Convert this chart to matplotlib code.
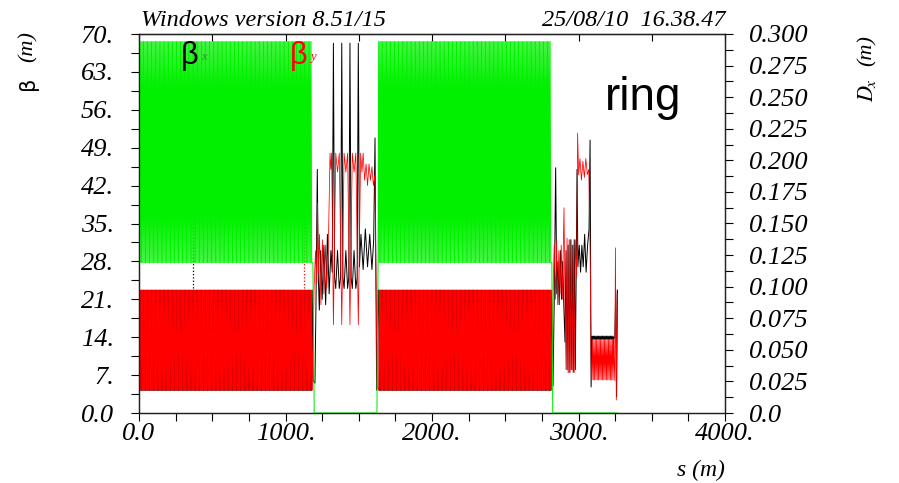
import numpy as np
import matplotlib
matplotlib.use('Agg')
import matplotlib.pyplot as plt
from matplotlib.ticker import MultipleLocator, FixedLocator, FixedFormatter

# --- arc FODO cell ---
CELL_LEN = 9.0
cell_s = [0.0, 2.25, 4.5, 6.75]
cell_betx = [22.7, 12.0, 4.2, 12.0]
cell_bety = [4.2, 12.0, 22.7, 12.0]
cell_s_d = [0.0, 4.5]
cell_dx = [0.294, 0.119]
arc_start = [4.0, 1636.0]
arc_cells = [131, 131]

# --- ring start ---
start_s = [0.0, 2.0]
start_betx = [10.0, 16.0]
start_bety = [6.0, 2.0]
start_s_d = [0.0, 2.0]
start_dx = [0.0, 0.119]

# --- first insertion (between the arcs) ---
ins1_s_x = [1183, 1190, 1201, 1208, 1217, 1224, 1231, 1240, 1250, 1262, 1274, 1286, 1298,
            1310, 1319, 1327, 1335, 1343, 1355, 1367, 1376, 1384, 1392, 1400, 1412, 1424,
            1432, 1440, 1448, 1456, 1468, 1480, 1489, 1497, 1505, 1515, 1530, 1545, 1560,
            1575, 1590, 1602, 1611, 1622, 1632]
ins1_betx = [22.7, 6.0, 5.5, 20.0, 45.0, 25.0, 19.0, 30.0, 21.0, 31.0, 20.0, 33.0, 22.0,
             30.0, 26.0, 68.3, 25.0, 23.0, 30.0, 23.0, 25.0, 68.3, 25.0, 23.0, 30.0, 23.0,
             25.0, 68.3, 25.0, 23.0, 30.0, 23.0, 25.0, 68.3, 27.0, 33.0, 26.5, 34.0, 27.0,
             33.0, 26.5, 32.0, 50.8, 4.2, 22.7]
ins1_s_y = [1183, 1195, 1205, 1212, 1218, 1224, 1232, 1242, 1252, 1262, 1272, 1282, 1292,
            1304, 1310, 1315, 1327, 1343, 1355, 1367, 1384, 1400, 1412, 1424, 1440, 1456,
            1468, 1480, 1497, 1513, 1522, 1530, 1540, 1550, 1560, 1570, 1580, 1590, 1600,
            1610, 1620, 1626, 1636]
ins1_bety = [4.2, 23.0, 30.0, 24.0, 38.8, 26.0, 33.0, 20.0, 32.0, 22.0, 31.0, 23.0, 30.0,
             48.0, 45.0, 48.0, 16.3, 48.0, 44.5, 48.0, 16.3, 48.0, 44.5, 48.0, 16.3, 48.0,
             44.5, 48.0, 16.3, 48.0, 44.5, 48.0, 43.0, 46.0, 42.0, 46.0, 43.0, 45.5, 42.0,
             44.0, 20.0, 5.0, 4.2]
ins1_s_d = [1187, 1196, 1624, 1632]
ins1_dx = [0.119, 0.0, 0.0, 0.119]

# --- last section after the second arc ---
sec3_s_x = [2815, 2826, 2834, 2844, 2852, 2860, 2868, 2876, 2884, 2892, 2900, 2908, 2915,
            2922, 2929, 2936, 2943, 2950, 2957, 2964, 2971, 2978, 2985, 2990, 2996, 3005,
            3014, 3023, 3032, 3042, 3052, 3062, 3072, 3079, 3086, 3092]
sec3_betx = [22.7, 5.0, 20.0, 45.3, 22.0, 28.0, 20.0, 30.0, 21.0, 28.0, 19.6, 13.1, 30.0,
             8.0, 31.0, 7.5, 32.0, 8.0, 31.0, 7.5, 32.0, 8.0, 28.0, 45.0, 27.0, 31.0,
             26.0, 31.0, 27.0, 33.0, 26.0, 31.0, 34.0, 50.4, 4.8, 14.0]
sec3_s_y = [2815, 2826, 2834, 2842, 2850, 2858, 2866, 2874, 2882, 2890, 2901, 2908, 2915,
            2922, 2929, 2936, 2943, 2950, 2957, 2964, 2971, 2978, 2987, 2994, 3001, 3010,
            3020, 3030, 3040, 3050, 3060, 3070, 3079, 3088, 3092]
sec3_bety = [4.2, 22.0, 31.0, 21.0, 32.0, 20.0, 30.0, 22.0, 31.0, 21.0, 37.9, 20.0, 8.0,
             32.3, 7.4, 32.0, 7.5, 32.0, 8.0, 31.0, 7.5, 32.0, 25.0, 51.7, 44.0, 47.0,
             43.0, 46.5, 43.5, 47.0, 44.0, 45.0, 30.0, 6.0, 6.1]
sec3_s_d = [2818, 2824, 3265]
sec3_dx = [0.119, 0.0, 0.0]

# flat dense cells near the end
flat_start = 3092.0
flat_cells = 17
flat_betx = [14.2, 13.9, 13.6, 13.9]
flat_bety = [6.1, 9.8, 13.6, 9.8]

end_s_x = [3248, 3254, 3260, 3266]
end_betx = [14.0, 22.7, 3.0, 22.7]
end_s_y = [3248, 3252, 3258, 3264]
end_bety = [6.0, 30.5, 2.4, 22.0]

# legend labels and their dotted markers
legend_s = [369, 1126]


def arc(start, ncell, offs, vals, length=CELL_LEN):
    s = (start + np.arange(ncell)[:, None] * length + np.array(offs)[None, :]).ravel()
    v = np.tile(vals, ncell)
    return list(s), list(v)


def build(pieces):
    s, v = [], []
    for ps, pv in pieces:
        s += list(ps)
        v += list(pv)
    return np.array(s), np.array(v)


a1x = arc(arc_start[0], arc_cells[0], cell_s, cell_betx)
a2x = arc(arc_start[1], arc_cells[1], cell_s, cell_betx)
a1y = arc(arc_start[0], arc_cells[0], cell_s, cell_bety)
a2y = arc(arc_start[1], arc_cells[1], cell_s, cell_bety)
a1d = arc(arc_start[0], arc_cells[0], cell_s_d, cell_dx)
a2d = arc(arc_start[1], arc_cells[1], cell_s_d, cell_dx)
fx = arc(flat_start, flat_cells, cell_s, flat_betx)
fy = arc(flat_start, flat_cells, cell_s, flat_bety)

s_x, betx = build([(start_s, start_betx), a1x, (ins1_s_x, ins1_betx), a2x,
                   (sec3_s_x, sec3_betx), fx, (end_s_x, end_betx)])
s_y, bety = build([(start_s, start_bety), a1y, (ins1_s_y, ins1_bety), a2y,
                   (sec3_s_y, sec3_bety), fy, (end_s_y, end_bety)])
s_d, dx = build([(start_s_d, start_dx), a1d, (ins1_s_d, ins1_dx), a2d, (sec3_s_d, sec3_dx)])

serif = 'Liberation Serif'
fig = plt.figure(figsize=(8.99, 4.83), dpi=100)
ax = fig.add_axes([139 / 899, 70 / 483, 586 / 899, 379 / 483])
ax2 = ax.twinx()

# dotted markers under the legend labels
ax.plot([legend_s[0]] * 2, [60, 22.7], color='black', ls=':', lw=0.9)
ax.plot([legend_s[1]] * 2, [60, 22.7], color='red', ls=':', lw=0.9)

ax.plot(s_x, betx, color='black', lw=0.7)
ax.plot(s_y, bety, color='red', lw=0.55)
ax2.plot(s_d, dx, color='#00f000', lw=0.75)

ax.set_xlim(0, 4000)
ax.set_ylim(0, 70)
ax2.set_ylim(0, 0.3)

tick_kw = dict(fontfamily=serif, fontstyle='italic', fontsize=19)

ax.xaxis.set_major_locator(FixedLocator([0, 1000, 2000, 3000, 4000]))
ax.xaxis.set_major_formatter(FixedFormatter(['0.0', '1000.', '2000.', '3000.', '4000.']))
ax.xaxis.set_minor_locator(MultipleLocator(250))
ax.yaxis.set_major_locator(FixedLocator(np.arange(0, 71, 7)))
ax.yaxis.set_major_formatter(FixedFormatter(['0.0'] + ['%d.' % v for v in range(7, 71, 7)]))
ax.yaxis.set_minor_locator(MultipleLocator(3.5))
ax2.yaxis.set_major_locator(FixedLocator(np.arange(0, 0.3001, 0.025)))
ax2.yaxis.set_major_formatter(FixedFormatter(['0.0'] + ['%.3f' % (0.025 * k) for k in range(1, 13)]))
ax2.yaxis.set_minor_locator(MultipleLocator(0.0125))

for lab in ax.get_xticklabels() + ax.get_yticklabels() + ax2.get_yticklabels():
    lab.set(**tick_kw)

ax.tick_params(axis='x', which='both', direction='out', length=6, width=0.8, pad=1, top=False)
ax.tick_params(axis='y', which='both', direction='out', length=6, width=0.8, pad=12)
ax2.tick_params(axis='y', which='both', direction='out', length=6, width=0.8, pad=11)

top = ax.secondary_xaxis('top')
top.set_xticks(np.arange(0, 4001, 500))
top.set_xticklabels([])
top.tick_params(direction='in', length=5, width=0.8)

for a in (ax, ax2):
    for sp in a.spines.values():
        sp.set_linewidth(0.9)
        sp.set_color('#222222')

# header texts
fig.text(141 / 899, 1 - 26 / 483, 'Windows version 8.51/15', fontfamily=serif,
         fontstyle='italic', fontsize=17.5, ha='left', va='baseline')
fig.text(725 / 899, 1 - 26 / 483, '25/08/10  16.38.47', fontfamily=serif,
         fontstyle='italic', fontsize=17.5, ha='right', va='baseline')

# axis labels
fig.text(28 / 899, 1 - 83 / 483, 'β', fontfamily='DejaVu Sans', fontsize=15,
         rotation=90, ha='center', va='center')
fig.text(28 / 899, 1 - 47 / 483, '(m)', fontfamily=serif, fontstyle='italic', fontsize=16,
         rotation=90, ha='center', va='center')
fig.text(867 / 899, 1 - 90 / 483, r'$D_{\!x}$', fontsize=16, rotation=90,
         ha='center', va='center', math_fontfamily='stix')
fig.text(867 / 899, 1 - 51 / 483, '(m)', fontfamily=serif, fontstyle='italic', fontsize=16,
         rotation=90, ha='center', va='center')
fig.text(725 / 899, 1 - 470 / 483, 's (m)', fontfamily=serif, fontstyle='italic',
         fontsize=17, ha='right', va='center')

# legend labels
fig.text(181 / 899, 1 - 64 / 483, 'β', fontfamily='Liberation Sans', fontsize=22,
         color='black', ha='left', va='baseline')
fig.text(201 / 899, 1 - 60 / 483, 'x', fontfamily=serif, fontstyle='italic', fontsize=9,
         color='#448844', ha='left', va='baseline')
fig.text(290 / 899, 1 - 64 / 483, 'β', fontfamily='Liberation Sans', fontsize=22,
         color='red', ha='left', va='baseline')
fig.text(310 / 899, 1 - 60 / 483, 'y', fontfamily=serif, fontstyle='italic', fontsize=9,
         color='red', ha='left', va='baseline')

fig.text(605 / 899, 1 - 110 / 483, 'ring', fontfamily='Liberation Sans', fontsize=33,
         ha='left', va='baseline')

fig.savefig('out.png', dpi=100)
